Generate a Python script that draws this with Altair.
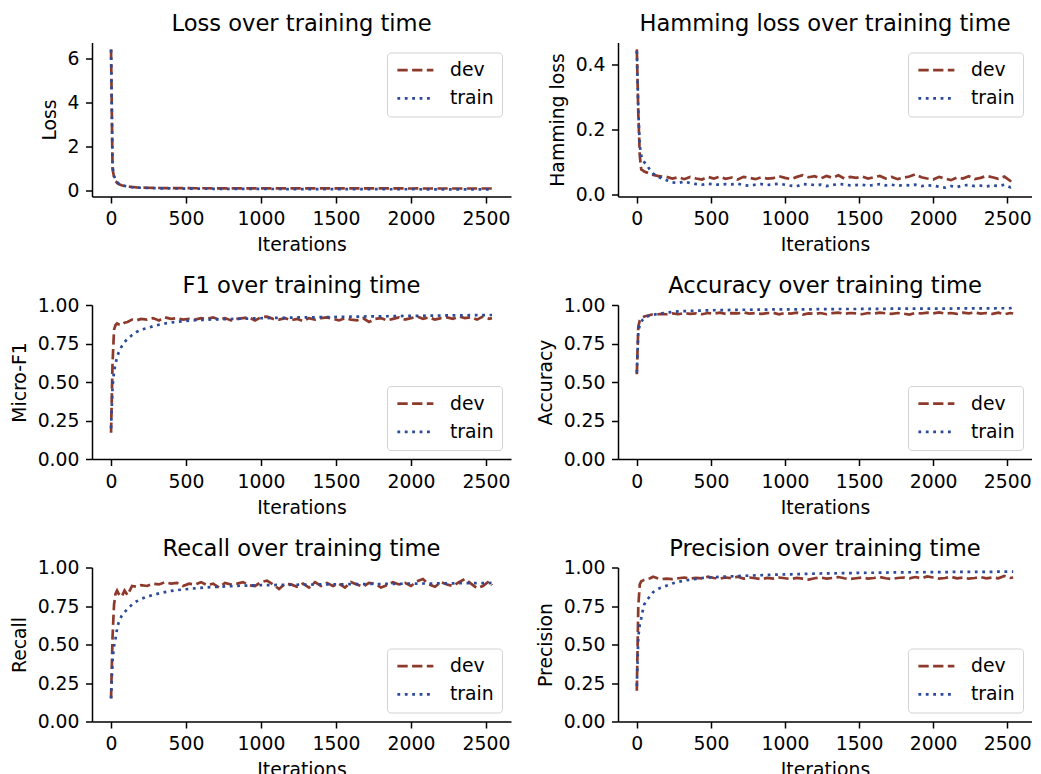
import altair as alt
import pandas as pd

# ---------------- data ----------------
ITERATIONS = [0, 10, 20, 30, 40, 50, 70, 90, 110, 140, 170, 200,
              240, 280, 320, 360, 400, 440, 480, 520, 560, 600,
              640, 680, 720, 760, 800, 840, 880, 920, 960, 1000,
              1040, 1080, 1120, 1160, 1200, 1240, 1280, 1320, 1360, 1400,
              1440, 1480, 1520, 1560, 1600, 1640, 1680, 1720, 1760, 1800,
              1840, 1880, 1920, 1960, 2000, 2040, 2080, 2120, 2160, 2200,
              2240, 2280, 2320, 2360, 2400, 2440, 2480, 2520, 2540]

LOSS_DEV = [6.40, 1.00, 0.62, 0.45, 0.37, 0.31, 0.26, 0.22, 0.20, 0.18, 0.16, 0.15,
            0.145, 0.14, 0.135, 0.13, 0.13, 0.128, 0.125, 0.125, 0.123, 0.122,
            0.122, 0.12, 0.12, 0.12, 0.118, 0.12, 0.118, 0.118, 0.117, 0.118,
            0.117, 0.116, 0.117, 0.116, 0.116, 0.115, 0.116, 0.115, 0.115, 0.115,
            0.115, 0.114, 0.115, 0.114, 0.114, 0.115, 0.114, 0.113, 0.114, 0.113,
            0.113, 0.114, 0.113, 0.113, 0.112, 0.113, 0.112, 0.112, 0.113, 0.112,
            0.112, 0.111, 0.112, 0.111, 0.112, 0.111, 0.111, 0.112, 0.111]
LOSS_TRAIN = [6.38, 1.10, 0.68, 0.50, 0.40, 0.34, 0.27, 0.23, 0.20, 0.17, 0.155, 0.145,
              0.135, 0.128, 0.122, 0.118, 0.114, 0.111, 0.108, 0.106, 0.104, 0.102,
              0.100, 0.099, 0.097, 0.096, 0.095, 0.094, 0.093, 0.092, 0.091, 0.090,
              0.089, 0.089, 0.088, 0.087, 0.087, 0.086, 0.085, 0.085, 0.084, 0.084,
              0.083, 0.083, 0.082, 0.082, 0.081, 0.081, 0.080, 0.080, 0.079, 0.079,
              0.079, 0.078, 0.078, 0.077, 0.077, 0.077, 0.076, 0.076, 0.076, 0.075,
              0.075, 0.075, 0.074, 0.074, 0.074, 0.073, 0.073, 0.073, 0.072]

HAM_DEV = [0.445, 0.25, 0.12, 0.078, 0.075, 0.071, 0.068, 0.064, 0.061, 0.058, 0.056, 0.055,
           0.050, 0.054, 0.048, 0.055, 0.050, 0.047, 0.055, 0.050, 0.056, 0.049,
           0.053, 0.047, 0.055, 0.052, 0.048, 0.054, 0.050, 0.051, 0.057, 0.052,
           0.048, 0.055, 0.060, 0.054, 0.057, 0.050, 0.058, 0.052, 0.060, 0.050,
           0.055, 0.052, 0.056, 0.050, 0.054, 0.058, 0.050, 0.055, 0.048, 0.053,
           0.056, 0.063, 0.054, 0.050, 0.047, 0.055, 0.050, 0.045, 0.053, 0.050,
           0.057, 0.048, 0.052, 0.058, 0.054, 0.049, 0.056, 0.043, 0.052]
HAM_TRAIN = [0.44, 0.26, 0.15, 0.12, 0.107, 0.10, 0.09, 0.075, 0.065, 0.056, 0.050, 0.045,
             0.038, 0.036, 0.041, 0.036, 0.033, 0.031, 0.034, 0.032, 0.031, 0.033,
             0.032, 0.034, 0.030, 0.028, 0.031, 0.033, 0.030, 0.032, 0.034, 0.031,
             0.028, 0.026, 0.033, 0.032, 0.030, 0.031, 0.027, 0.030, 0.033, 0.032,
             0.029, 0.030, 0.031, 0.028, 0.030, 0.033, 0.029, 0.031, 0.028, 0.030,
             0.029, 0.031, 0.027, 0.029, 0.028, 0.025, 0.022, 0.027, 0.024, 0.029,
             0.030, 0.027, 0.028, 0.026, 0.029, 0.027, 0.031, 0.023, 0.027]

F1_DEV = [0.17, 0.62, 0.84, 0.87, 0.88, 0.875, 0.87, 0.885, 0.89, 0.905, 0.90, 0.91,
          0.905, 0.915, 0.90, 0.92, 0.91, 0.915, 0.905, 0.91, 0.905, 0.915,
          0.91, 0.92, 0.905, 0.915, 0.90, 0.91, 0.915, 0.92, 0.90, 0.92,
          0.925, 0.91, 0.905, 0.915, 0.90, 0.91, 0.895, 0.915, 0.905, 0.915,
          0.92, 0.91, 0.90, 0.915, 0.905, 0.90, 0.915, 0.89, 0.91, 0.915,
          0.90, 0.91, 0.92, 0.905, 0.915, 0.925, 0.91, 0.92, 0.905, 0.915,
          0.92, 0.91, 0.925, 0.915, 0.92, 0.905, 0.925, 0.91, 0.915]
F1_TRAIN = [0.20, 0.47, 0.57, 0.62, 0.66, 0.69, 0.73, 0.76, 0.78, 0.805, 0.825, 0.84,
            0.85, 0.862, 0.872, 0.88, 0.886, 0.891, 0.895, 0.898, 0.901, 0.903,
            0.905, 0.906, 0.907, 0.908, 0.909, 0.910, 0.911, 0.912, 0.913, 0.914,
            0.915, 0.916, 0.917, 0.917, 0.918, 0.919, 0.919, 0.920, 0.920, 0.921,
            0.922, 0.922, 0.923, 0.923, 0.924, 0.925, 0.925, 0.926, 0.926, 0.927,
            0.927, 0.928, 0.928, 0.929, 0.929, 0.930, 0.930, 0.931, 0.931, 0.932,
            0.932, 0.932, 0.933, 0.933, 0.934, 0.934, 0.934, 0.935, 0.935]

ACC_DEV = [0.55, 0.86, 0.90, 0.915, 0.92, 0.925, 0.93, 0.935, 0.94, 0.94, 0.942, 0.94,
           0.945, 0.94, 0.948, 0.943, 0.946, 0.94, 0.948, 0.944, 0.95, 0.942,
           0.947, 0.945, 0.952, 0.944, 0.948, 0.942, 0.947, 0.95, 0.94, 0.948,
           0.944, 0.95, 0.938, 0.946, 0.942, 0.948, 0.94, 0.947, 0.95, 0.943,
           0.948, 0.945, 0.94, 0.948, 0.944, 0.95, 0.946, 0.942, 0.948, 0.944,
           0.938, 0.948, 0.945, 0.95, 0.946, 0.952, 0.944, 0.948, 0.942, 0.95,
           0.946, 0.952, 0.944, 0.948, 0.942, 0.95, 0.94, 0.948, 0.945]
ACC_TRAIN = [0.56, 0.83, 0.87, 0.89, 0.905, 0.915, 0.925, 0.932, 0.937, 0.942, 0.946, 0.95,
             0.955, 0.958, 0.96, 0.962, 0.963, 0.964, 0.965, 0.966, 0.967, 0.967,
             0.968, 0.968, 0.969, 0.969, 0.97, 0.97, 0.97, 0.971, 0.971, 0.971,
             0.972, 0.972, 0.972, 0.972, 0.973, 0.973, 0.973, 0.973, 0.974, 0.974,
             0.974, 0.974, 0.975, 0.975, 0.975, 0.975, 0.975, 0.976, 0.976, 0.976,
             0.976, 0.976, 0.977, 0.977, 0.977, 0.977, 0.977, 0.977, 0.978, 0.978,
             0.978, 0.978, 0.978, 0.978, 0.978, 0.979, 0.979, 0.979, 0.985]

REC_DEV = [0.15, 0.55, 0.76, 0.83, 0.85, 0.83, 0.81, 0.85, 0.82, 0.88, 0.875, 0.885,
           0.88, 0.895, 0.89, 0.905, 0.895, 0.90, 0.88, 0.895, 0.89, 0.905,
           0.885, 0.895, 0.87, 0.90, 0.89, 0.895, 0.905, 0.885, 0.88, 0.905,
           0.915, 0.89, 0.86, 0.895, 0.89, 0.875, 0.895, 0.87, 0.905, 0.88,
           0.90, 0.88, 0.895, 0.87, 0.905, 0.89, 0.875, 0.90, 0.895, 0.87,
           0.885, 0.905, 0.89, 0.90, 0.88, 0.91, 0.925, 0.89, 0.875, 0.905,
           0.89, 0.88, 0.905, 0.925, 0.895, 0.865, 0.88, 0.91, 0.885]
REC_TRAIN = [0.15, 0.40, 0.49, 0.54, 0.60, 0.64, 0.685, 0.71, 0.73, 0.76, 0.78, 0.795,
             0.81, 0.822, 0.832, 0.84, 0.848, 0.853, 0.857, 0.861, 0.865, 0.868,
             0.871, 0.873, 0.875, 0.877, 0.879, 0.881, 0.882, 0.883, 0.884, 0.885,
             0.886, 0.886, 0.887, 0.887, 0.888, 0.888, 0.889, 0.889, 0.89, 0.89,
             0.89, 0.891, 0.891, 0.891, 0.892, 0.892, 0.892, 0.893, 0.893, 0.893,
             0.894, 0.894, 0.894, 0.895, 0.895, 0.895, 0.896, 0.896, 0.896, 0.897,
             0.897, 0.897, 0.898, 0.898, 0.898, 0.899, 0.899, 0.899, 0.90]

PREC_DEV = [0.20, 0.75, 0.89, 0.91, 0.915, 0.92, 0.925, 0.93, 0.94, 0.93, 0.925, 0.928,
            0.925, 0.93, 0.935, 0.928, 0.932, 0.93, 0.94, 0.932, 0.928, 0.935,
            0.93, 0.94, 0.928, 0.935, 0.93, 0.924, 0.933, 0.928, 0.935, 0.93,
            0.925, 0.932, 0.928, 0.922, 0.93, 0.935, 0.928, 0.932, 0.938, 0.93,
            0.925, 0.93, 0.935, 0.928, 0.932, 0.938, 0.93, 0.925, 0.932, 0.935,
            0.93, 0.938, 0.93, 0.942, 0.935, 0.928, 0.932, 0.94, 0.93, 0.935,
            0.928, 0.932, 0.938, 0.93, 0.935, 0.93, 0.945, 0.932, 0.935]
PREC_TRAIN = [0.23, 0.55, 0.63, 0.67, 0.72, 0.76, 0.79, 0.815, 0.84, 0.86, 0.872, 0.882,
              0.896, 0.907, 0.915, 0.921, 0.926, 0.932, 0.935, 0.937, 0.939, 0.941,
              0.943, 0.944, 0.946, 0.947, 0.949, 0.95, 0.952, 0.953, 0.954, 0.955,
              0.956, 0.957, 0.958, 0.959, 0.96, 0.961, 0.962, 0.962, 0.963, 0.964,
              0.964, 0.965, 0.965, 0.966, 0.966, 0.967, 0.967, 0.968, 0.968, 0.968,
              0.969, 0.969, 0.969, 0.97, 0.97, 0.97, 0.97, 0.971, 0.971, 0.971,
              0.971, 0.972, 0.972, 0.972, 0.972, 0.973, 0.973, 0.973, 0.973]

SERIES = ["dev", "train"]
X_TICKS = [0, 500, 1000, 1500, 2000, 2500]

# ---------------- styling ----------------
FONT = "DejaVu Sans"
DEV_COLOR = "#8d3a2c"
TRAIN_COLOR = "#2b4a9c"
W_LEFT, W_RIGHT, H = 419, 414, 154
LW = 2.7
LABEL_FS = 18.8
TITLE_FS = 22.6


def panel(title, ytitle, dev, train, ydomain, yticks, yfmt, legend_orient, title_offset, width):
    n = len(ITERATIONS)
    df = pd.DataFrame({
        "Iterations": ITERATIONS + ITERATIONS,
        "value": dev + train,
        "series": ["dev"] * n + ["train"] * n,
    })
    leg = alt.Legend(
        title=None, orient=legend_orient, offset=9.5, padding=8.2,
        symbolType="M-1,0H4", symbolSize=207, symbolStrokeWidth=LW,
        labelFontSize=LABEL_FS, labelFont=FONT, labelColor="black",
        labelOffset=36, rowPadding=8.2,
        fillColor="rgba(255,255,255,0.85)", strokeColor="#d3d3d3",
        cornerRadius=3.5,
    )
    return alt.Chart(df, title=alt.TitleParams(
        title, fontSize=TITLE_FS, fontWeight="normal", font=FONT, color="black",
        anchor="middle", frame="group", offset=title_offset,
    )).mark_line(strokeWidth=LW, clip=True).encode(
        x=alt.X("Iterations:Q",
                scale=alt.Scale(domain=[-127, 2667], nice=False, zero=False),
                axis=alt.Axis(values=X_TICKS, title="Iterations", format="d")),
        y=alt.Y("value:Q",
                scale=alt.Scale(domain=ydomain, nice=False, zero=False),
                axis=alt.Axis(values=yticks, title=ytitle, format=yfmt)),
        color=alt.Color("series:N",
                        scale=alt.Scale(domain=SERIES, range=[DEV_COLOR, TRAIN_COLOR]),
                        legend=leg),
        strokeDash=alt.StrokeDash("series:N",
                                  scale=alt.Scale(domain=SERIES, range=[[10.3, 4.4], [2.8, 4.6]]),
                                  legend=leg),
    ).properties(width=width, height=H)


UNIT_TICKS = [0, 0.25, 0.5, 0.75, 1.0]
panels = [
    panel("Loss over training time", "Loss", LOSS_DEV, LOSS_TRAIN,
          [-0.25, 6.71], [0, 2, 4, 6], "d", "top-right", 6.7, W_LEFT),
    panel("Hamming loss over training time", "Hamming loss", HAM_DEV, HAM_TRAIN,
          [-0.005, 0.466], [0.0, 0.2, 0.4], ".1f", "top-right", 6.7, W_RIGHT),
    panel("F1 over training time", "Micro-F1", F1_DEV, F1_TRAIN,
          [0, 1], UNIT_TICKS, ".2f", "bottom-right", -2, W_LEFT),
    panel("Accuracy over training time", "Accuracy", ACC_DEV, ACC_TRAIN,
          [0, 1], UNIT_TICKS, ".2f", "bottom-right", -2, W_RIGHT),
    panel("Recall over training time", "Recall", REC_DEV, REC_TRAIN,
          [0, 1], UNIT_TICKS, ".2f", "bottom-right", -2, W_LEFT),
    panel("Precision over training time", "Precision", PREC_DEV, PREC_TRAIN,
          [0, 1], UNIT_TICKS, ".2f", "bottom-right", -2, W_RIGHT),
]

chart = alt.concat(
    *panels, columns=2, spacing={"row": 20.5, "column": 25}
).resolve_scale(
    color="independent", strokeDash="independent"
).resolve_legend(
    color="independent", strokeDash="independent"
).properties(
    padding={"left": 2, "top": 4.5, "right": 0, "bottom": 0},
    background="white",
).configure_view(
    stroke=None
).configure_axis(
    domainColor="black", domainWidth=1.5,
    tickColor="black", tickWidth=1.5, tickSize=6.5,
    labelPadding=6.5, labelFontSize=LABEL_FS, labelFont=FONT, labelColor="black",
    titleFontSize=LABEL_FS, titleFont=FONT, titleFontWeight="normal", titleColor="black",
    titlePadding=7.4, grid=False, labelFlush=False, labelOverlap=False,
)

chart.save("out.html", embed_options={"renderer": "svg", "actions": False})
